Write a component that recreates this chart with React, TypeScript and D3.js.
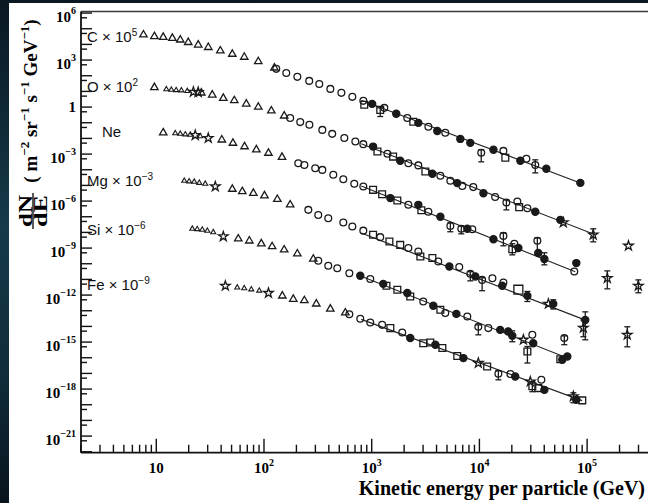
import React from 'react';
import * as d3 from 'd3';

const WIDTH = 648;
const HEIGHT = 503;

const SERIF = "'Liberation Serif', 'DejaVu Serif', serif";
const SANS = "'Liberation Sans', Arial, sans-serif";

// Axis ranges: kinetic energy per particle (GeV) and differential flux
const energyDomain = [2, 5e5];
const fluxDomain = [8.7e-23, 1.26e6];

// Element labels and the power of ten each spectrum is multiplied by
const elementNames = ['C', 'O', 'Ne', 'Mg', 'Si', 'Fe'];
const scaleExponents = [5, 2, 0, -3, -6, -9];

// Power-law fits: flux at 1 TeV, spectral index, energy range
const fitNorm1TeV = [1.55e-5, 2.5e-5, 4.9e-6, 5.0e-6, 8.7e-6, 1.6e-5];
const fitIndex = [2.6, 2.67, 2.75, 2.67, 2.73, 2.53];
const fitEmin = 800;
const fitEmax = [86500, 119000, 77600, 97700, 65500, 89700];

const yLabelExponents = [6, 3, 0, -3, -6, -9, -12, -15, -18, -21];
const xLabelExponents = [1, 2, 3, 4, 5];

// [energy (GeV), flux (m^-2 sr^-1 s^-1 GeV^-1), marker, lower, upper]
// markers: t triangle, v small triangle, o open circle, f filled circle,
// s square, S large square, * star
const carbon = [
  [7.6, 0.41, 't'], [9.6, 0.32, 't'], [11.6, 0.29, 't'], [14.1, 0.25, 't'], [16.7, 0.195, 't'],
  [19.8, 0.135, 't'], [24.5, 0.093, 't'], [30.4, 0.065, 't'], [39.3, 0.039, 't'], [50.8, 0.024, 't'],
  [65.6, 0.0155, 't'], [88.5, 0.0081, 't'], [125, 3.2e-3, 't'],
  [130, 2.75e-3, 'o'], [161, 1.51e-3, 'o'], [204, 8.5e-4, 'o'], [263, 4.7e-4, 'o'], [326, 3.0e-4, 'o'],
  [413, 1.45e-4, 'o'], [523, 8.1e-5, 'o'], [661, 4.5e-5, 'o'], [836, 2.5e-5, 'o'], [1310, 8.9e-6, 'o'],
  [2140, 2.0e-6, 'o'], [3360, 5.5e-7, 'o'], [4820, 2.3e-7, 'o'], [16700, 1.6e-8, 'o'], [27300, 5.0e-9, 'o'],
  [1010, 1.6e-5, 'f'], [1690, 3.7e-6, 'f'], [2710, 9.8e-7, 'f'], [4060, 3.0e-7, 'f'], [6650, 9.3e-8, 'f'],
  [8230, 5.2e-8, 'f'], [13500, 1.9e-8, 'f'], [24000, 3.7e-9, 'f'], [41800, 1.15e-9, 'f'], [86500, 1.45e-10, 'f'],
  [853, 1.4e-5, 's'], [1200, 6.6e-6, 's', 2.5e-6, 8.9e-6], [2430, 1.15e-6, 's'], [17400, 5.8e-9, 's'],
  [10400, 1.2e-8, 'o', 3.2e-9, 1.9e-8], [33000, 2.0e-9, 'o', 6.3e-10, 4.3e-9],
];

const oxygen = [
  [9.6, 0.18, 't'],
  [12.4, 0.135, 'v'], [13.8, 0.126, 'v'], [15.3, 0.12, 'v'], [17.1, 0.115, 'v'], [19.4, 0.105, 'v'],
  [22.1, 0.093, '*'], [24.5, 0.089, '*'],
  [26.2, 0.081, 't'], [33.1, 0.06, 't'], [41.9, 0.037, 't'], [53.0, 0.026, 't'], [68.5, 0.016, 't'],
  [88.5, 0.01, 't'], [117, 5.8e-3, 't'], [154, 2.75e-3, 't'],
  [175, 2.0e-3, 'o'], [217, 1.1e-3, 'o'], [264, 7.4e-4, 'o'], [348, 3.5e-4, 'o'], [430, 1.95e-4, 'o'],
  [557, 1.05e-4, 'o'], [705, 6.3e-5, 'o'], [836, 4.3e-5, 'o'], [1400, 1.05e-5, 'o'], [2190, 2.6e-6, 'o'],
  [2710, 1.9e-6, 'o'], [4340, 4.1e-7, 'o'], [5370, 2.0e-7, 'o'], [6940, 9.3e-8, 'o'], [8770, 7.8e-8, 'o'],
  [14000, 1.8e-8, 'o'], [22500, 9.3e-9, 'o'], [27900, 3.5e-9, 'o'],
  [1030, 3.0e-5, 'f'], [1840, 3.7e-6, 'f'], [3660, 5.5e-7, 'f'], [6230, 1.4e-7, 'f'], [10900, 3.2e-8, 'f'],
  [33000, 2.1e-9, 'f'], [56400, 6.3e-10, 'f'],
  [1130, 1.45e-5, 's'], [1580, 6.9e-6, 's'], [3150, 7.8e-7, 's'], [23400, 4.1e-9, 's'],
  [17800, 8.1e-9, 'o', 2.75e-9, 1.2e-8],
  [60100, 4.3e-10, '*'], [114000, 7.1e-11, '*', 2.5e-11, 1.7e-10], [242000, 1.4e-11, '*'],
];

const neon = [
  [11.6, 0.023, 't'],
  [15.0, 0.021, 'v'], [16.7, 0.0195, 'v'], [18.6, 0.018, 'v'], [20.7, 0.017, 'v'], [25.6, 0.0135, 'v'],
  [23.0, 0.016, '*'], [30.4, 0.0105, '*'],
  [40.6, 8.1e-3, 't'], [51.5, 5.0e-3, 't'], [66.0, 3.0e-3, 't'], [84.9, 1.9e-3, 't'], [110, 1.15e-3, 't'],
  [147, 6.3e-4, 't'],
  [208, 2.6e-4, 'o'], [237, 2.0e-4, 'o'], [299, 1.26e-4, 'o'], [348, 9.8e-5, 'o'], [440, 4.8e-5, 'o'],
  [545, 2.5e-5, 'o'], [689, 1.26e-5, 'o'], [836, 8.5e-6, 'o'], [2190, 5.8e-7, 'o'], [3360, 2.1e-7, 'o'],
  [8590, 1.6e-8, 'o'], [21100, 1.9e-9, 'o'], [76000, 3.2e-11, 'o'],
  [1490, 1.55e-6, 'f'], [2710, 5.75e-7, 'f'], [4340, 1.0e-7, 'f'], [7720, 1.7e-8, 'f'], [13500, 3.7e-9, 'f'],
  [23000, 1.0e-9, 'f'], [35200, 4.8e-10, 'f'], [40100, 2.0e-10, 'f', 8.5e-11, 5.0e-10], [79400, 1.1e-10, 'f'],
  [1030, 5.2e-6, 's'], [1250, 2.75e-6, 's'], [1730, 1.1e-6, 's'], [2890, 2.6e-7, 's'],
  [20200, 8.5e-10, 's', 3.7e-10, 1.9e-9],
  [5370, 2.6e-8, 'o', 1.1e-8, 4.1e-8], [6790, 1.7e-8, 'o', 8.1e-9, 2.6e-8], [16700, 6.0e-9, 'o', 1.4e-9, 9.3e-9],
  [34500, 2.9e-9, 'o', 3.7e-10, 4.5e-9],
  [154000, 1.2e-11, '*', 2.5e-12, 3.5e-11], [299000, 3.9e-12, '*', 1.4e-12, 9.3e-12],
];

const magnesium = [
  [18.2, 0.0195, 'v'], [20.2, 0.018, 'v'], [22.5, 0.017, 'v'], [25.1, 0.0145, 'v'], [28.5, 0.0126, 'v'],
  [35.3, 8.5e-3, '*'],
  [50.8, 5.8e-3, 't'], [62.9, 4.1e-3, 't'], [79.6, 3.2e-3, 't'], [101, 2.2e-3, 't'], [133, 1.3e-3, 't'],
  [175, 5.8e-4, 't'],
  [258, 2.75e-4, 'o'], [319, 1.3e-4, 'o'], [395, 8.1e-5, 'o'], [545, 4.3e-5, 'o'], [661, 2.4e-5, 'o'],
  [836, 1.3e-5, 'o'], [1200, 5.0e-6, 'o'], [2190, 1.0e-6, 'o'], [2710, 6.0e-7, 'o'], [4150, 1.4e-7, 'o'],
  [6500, 6.2e-8, 'o'], [13200, 1.2e-8, 'o'], [16700, 6.3e-9, 'o'],
  [5260, 6.6e-8, 'f'], [9160, 1.55e-8, 'f'], [16300, 3.9e-9, 'f'], [27900, 8.9e-10, 'f', 3.9e-10, 1.7e-9],
  [48500, 2.75e-10, 'f', 1.3e-10, 5.0e-10], [96100, 2.6e-11, 'f', 1.4e-12, 8.5e-11],
  [1030, 7.1e-6, 's'], [1460, 2.6e-6, 's'], [1840, 1.6e-6, 's'], [2830, 2.9e-7, 's'], [3660, 2.3e-7, 's'],
  [23000, 2.2e-9, 'S'],
  [8230, 2.3e-8, 'o', 8.1e-9, 3.1e-8], [10600, 9.3e-9, 'o', 1.9e-9, 1.26e-8],
  [43700, 2.75e-10, '*'], [92300, 8.1e-12, '*', 2.2e-12, 2.6e-11], [236000, 2.9e-12, '*', 5.0e-13, 9.5e-12],
];

const silicon = [
  [21.6, 0.017, 'v'], [24.0, 0.016, 'v'], [26.7, 0.0148, 'v'], [29.8, 0.0126, 'v'], [33.8, 0.0102, 'v'],
  [41.9, 5.5e-3, '*'],
  [57.7, 3.9e-3, 't'], [73.1, 2.9e-3, 't'], [94.4, 1.9e-3, 't'], [119, 1.26e-3, 't'], [154, 7.8e-4, 't'],
  [204, 4.3e-4, 't'], [287, 2.0e-4, 't'],
  [319, 1.55e-4, 'o'], [395, 7.4e-5, 'o'], [479, 5.2e-5, 'o'], [620, 2.5e-5, 'o'], [970, 1.05e-5, 'o'],
  [3010, 3.9e-7, 'o'], [4820, 7.1e-8, 'o'], [7720, 4.3e-8, 'o'], [12100, 7.8e-9, 'o'], [31000, 2.9e-9, 'o'],
  [783, 1.7e-5, 'f'], [1280, 5.2e-6, 'f'], [2140, 1.35e-6, 'f'], [3730, 2.1e-7, 'f'], [6110, 6.3e-8, 'f'],
  [15600, 6.0e-9, 'f'], [18500, 4.8e-9, 'f'], [20200, 2.5e-9, 'f', 1.05e-9, 5.2e-9], [31600, 8.5e-10, 'f'],
  [58800, 7.4e-11, 'f'], [65500, 1.2e-10, 'f'],
  [1370, 3.9e-6, 's'], [1730, 2.2e-6, 's'], [2280, 8.1e-7, 's'], [4340, 1.15e-7, 's'],
  [27900, 2.5e-10, 's', 4.6e-11, 5.2e-10], [56400, 8.1e-11, 's'],
  [9770, 9.5e-9, 'o', 2.9e-9, 1.26e-8], [61400, 1.8e-9, 'o', 6.8e-10, 2.5e-9],
  [25600, 1.4e-9, '*'],
];

const iron = [
  [43.8, 3.9e-3, '*'], [110, 1.35e-3, '*'],
  [56.5, 3.0e-3, 'v'], [65.6, 2.7e-3, 'v'], [76.2, 2.3e-3, 'v'], [90.4, 1.9e-3, 'v'],
  [148, 8.9e-4, 't'], [187, 5.5e-4, 't'], [237, 4.5e-4, 't'], [306, 2.75e-4, 't'], [413, 1.3e-4, 't'],
  [569, 7.4e-5, 't'],
  [620, 5.9e-5, 'o'], [783, 3.1e-5, 'o'], [970, 1.8e-5, 'o'], [1250, 1.26e-5, 'o'], [1920, 4.1e-6, 'o'],
  [19400, 9.1e-9, 'o'], [37600, 3.9e-9, 'o'],
  [2280, 1.8e-6, 'f'], [3900, 6.8e-7, 'f'], [7100, 9.5e-8, 'f'], [21500, 6.3e-9, 'f'], [40100, 8.9e-10, 'f'],
  [79400, 2.1e-10, 'f'],
  [1490, 7.8e-6, 's'], [3010, 8.5e-7, 's'], [3500, 9.3e-7, 's'], [4530, 4.2e-7, 's'], [6230, 1.3e-7, 's'],
  [11800, 2.75e-8, 's'], [31000, 1.5e-9, 's', 6.8e-10, 3.0e-9], [35200, 1.15e-9, 's'], [90200, 1.9e-10, 's'],
  [9770, 4.6e-8, '*'], [29700, 3.0e-9, '*'], [74500, 3.4e-10, '*', 1.35e-10, 5.8e-10],
  [15000, 9.5e-9, 'o', 3.9e-9, 1.5e-8],
];

const spectra = [carbon, oxygen, neon, magnesium, silicon, iron];

const INK = '#1a1a1a';

const markerPaths: Record<string, string> = {
  t: d3.symbol().type(d3.symbolTriangle).size(24)() as string,
  v: d3.symbol().type(d3.symbolTriangle).size(11)() as string,
  o: d3.symbol().type(d3.symbolCircle).size(36)() as string,
  f: d3.symbol().type(d3.symbolCircle).size(40)() as string,
  s: d3.symbol().type(d3.symbolSquare).size(46)() as string,
  S: d3.symbol().type(d3.symbolSquare).size(80)() as string,
  '*': d3.symbol().type(d3.symbolStar).size(28)() as string,
};

const sup = (n: number) => (n < 0 ? '\u2212' + Math.abs(n) : String(n));

export default function App() {
  const x = d3.scaleLog().domain(energyDomain).range([81, 662.4]);
  const y = d3.scaleLog().domain(fluxDomain).range([452.7, 11.5]);
  const left = 81;
  const bottom = 452.7;
  const top = 11.5;

  const xTicks: { v: number; major: boolean }[] = [];
  for (let n = 0; n <= 5; n++) {
    for (let k = 1; k <= 9; k++) {
      const v = k * Math.pow(10, n);
      if (v >= energyDomain[0] && v <= energyDomain[1]) xTicks.push({ v, major: k === 1 });
    }
  }
  const yTicks: { v: number; major: boolean }[] = [];
  for (let n = -22; n <= 6; n++) {
    const v = Math.pow(10, n);
    const h = 0.5 * v;
    if (v >= fluxDomain[0] && v <= fluxDomain[1]) yTicks.push({ v, major: true });
    if (h >= fluxDomain[0] && h <= fluxDomain[1]) yTicks.push({ v: h, major: false });
  }

  const fitLine = d3
    .line<number[]>()
    .x((d) => x(d[0]))
    .y((d) => y(d[1]));

  const labelLayout = [
    [87, 42],
    [87, 92],
    [102, 137],
    [87, 186],
    [87, 235],
    [87, 290],
  ];

  return (
    <div style={{ position: 'fixed', left: 0, top: 0, width: WIDTH, height: HEIGHT, overflow: 'hidden' }}>
      <svg width={WIDTH} height={HEIGHT} viewBox={`0 0 ${WIDTH} ${HEIGHT}`} style={{ display: 'block' }}>
        <defs>
          <linearGradient id="slideBg" x1="0" y1="0" x2="0" y2="1">
            <stop offset="0" stopColor="#0a1822" />
            <stop offset="0.45" stopColor="#153a4a" />
            <stop offset="0.75" stopColor="#102c3a" />
            <stop offset="1" stopColor="#08141d" />
          </linearGradient>
        </defs>
        <rect x={0} y={0} width={WIDTH} height={HEIGHT} fill="url(#slideBg)" />
        <rect x={9} y={3} width={WIDTH - 9} height={HEIGHT - 3} fill="#ffffff" />

        {/* frame */}
        <line x1={left} x2={WIDTH} y1={top} y2={top} stroke="#3a3a3a" strokeWidth={1.6} />
        <line x1={left} x2={left} y1={top} y2={bottom} stroke="#111" strokeWidth={1.8} />
        <line x1={left} x2={WIDTH} y1={bottom} y2={bottom} stroke="#111" strokeWidth={1.8} />

        {/* y ticks */}
        {yTicks.map((t, i) => (
          <line
            key={'yt' + i}
            x1={left}
            x2={left + (t.major ? 11 : 6)}
            y1={y(t.v)}
            y2={y(t.v)}
            stroke="#111"
            strokeWidth={1.4}
          />
        ))}
        {/* x ticks */}
        {xTicks.map((t, i) => (
          <line
            key={'xt' + i}
            x1={x(t.v)}
            x2={x(t.v)}
            y1={bottom}
            y2={bottom - (t.major ? 14 : 8)}
            stroke="#111"
            strokeWidth={1.4}
          />
        ))}

        {/* y tick labels */}
        <g fontFamily={SERIF} fontWeight={700} fill="#000">
          {yLabelExponents.map((n) => {
            const yy = y(Math.pow(10, n));
            if (n === 0) {
              return (
                <text key={'yl' + n} x={76} y={yy + 5} textAnchor="end" fontSize={15}>
                  1
                </text>
              );
            }
            return (
              <text key={'yl' + n} x={76} y={yy + 9} textAnchor="end" fontSize={15}>
                10
                <tspan dy={-8} fontSize={10}>
                  {sup(n)}
                </tspan>
              </text>
            );
          })}
        </g>

        {/* x tick labels */}
        <g fontFamily={SERIF} fontWeight={700} fill="#000">
          {xLabelExponents.map((n) => (
            <text key={'xl' + n} x={x(Math.pow(10, n))} y={472.5} textAnchor="middle" fontSize={15}>
              10
              {n > 1 ? (
                <tspan dy={-7} fontSize={10}>
                  {sup(n)}
                </tspan>
              ) : null}
            </text>
          ))}
        </g>

        {/* axis titles */}
        <text x={645} y={495} textAnchor="end" fontFamily={SERIF} fontWeight={700} fontSize={20} fill="#000">
          Kinetic energy per particle (GeV)
        </text>
        <g transform="translate(37,101) rotate(-90)" fontFamily={SERIF} fontWeight={700} fontSize={19} fill="#000">
          <text textAnchor="middle">
            <tspan>{'( m'}</tspan>
            <tspan dy={-8} fontSize={13}>{'\u22122'}</tspan>
            <tspan dy={8}>{' sr'}</tspan>
            <tspan dy={-8} fontSize={13}>{'\u22121'}</tspan>
            <tspan dy={8}>{' s'}</tspan>
            <tspan dy={-8} fontSize={13}>{'\u22121'}</tspan>
            <tspan dy={8}>{' GeV'}</tspan>
            <tspan dy={-8} fontSize={13}>{'\u22121'}</tspan>
            <tspan dy={8}>{')'}</tspan>
          </text>
        </g>
        <g transform="translate(33,211) rotate(-90)" fontFamily={SERIF} fontWeight={700} fontSize={19} fill="#000">
          <text x={0} y={-1.5} textAnchor="middle" textLength={32} lengthAdjust="spacingAndGlyphs">
            dN
          </text>
          <line x1={-18} x2={18} y1={0} y2={0} stroke="#000" strokeWidth={1.3} />
          <text x={0} y={14} textAnchor="middle" textLength={32} lengthAdjust="spacingAndGlyphs">
            dE
          </text>
        </g>

        {/* power-law fits */}
        {spectra.map((_, i) => {
          const s = Math.pow(10, scaleExponents[i]);
          const pts = [fitEmin, fitEmax[i]].map((e) => [e, fitNorm1TeV[i] * Math.pow(e / 1000, -fitIndex[i]) * s]);
          return (
            <path key={'fit' + i} d={fitLine(pts) as string} fill="none" stroke="#222" strokeWidth={1.1} />
          );
        })}

        {/* error bars */}
        {spectra.map((data, i) => {
          const s = Math.pow(10, scaleExponents[i]);
          return (data as any[])
            .filter((d) => d.length > 3)
            .map((d, j) => {
              const cx = x(d[0]);
              const y1 = y(d[3] * s);
              const y2 = y(d[4] * s);
              return (
                <g key={'eb' + i + '-' + j} stroke={INK} strokeWidth={1.3}>
                  <line x1={cx} x2={cx} y1={y1} y2={y2} />
                  <line x1={cx - 3} x2={cx + 3} y1={y1} y2={y1} />
                  <line x1={cx - 3} x2={cx + 3} y1={y2} y2={y2} />
                </g>
              );
            });
        })}

        {/* data points */}
        {spectra.map((data, i) => {
          const s = Math.pow(10, scaleExponents[i]);
          return (data as any[]).map((d, j) => {
            const m = d[2] as string;
            const filled = m === 'f';
            return (
              <path
                key={'pt' + i + '-' + j}
                d={markerPaths[m]}
                transform={`translate(${x(d[0])},${y(d[1] * s)})`}
                fill={filled ? INK : 'none'}
                stroke={INK}
                strokeWidth={m === 'v' ? 1.1 : 1.3}
              />
            );
          });
        })}

        {/* element labels */}
        <g fontFamily={SANS} fontSize={15} fill="#111">
          {elementNames.map((name, i) => {
            const [lx, ly] = labelLayout[i];
            const n = scaleExponents[i];
            return (
              <text key={'lab' + name} x={lx} y={ly}>
                {n === 0 ? name : name + ' \u00d7 10'}
                {n !== 0 ? (
                  <tspan dy={-6} fontSize={10}>
                    {sup(n)}
                  </tspan>
                ) : null}
              </text>
            );
          })}
        </g>
      </svg>
    </div>
  );
}
